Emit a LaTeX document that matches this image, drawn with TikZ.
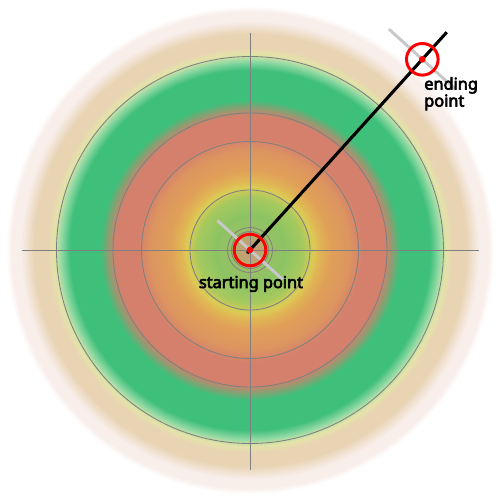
\documentclass[tikz,border=0pt]{standalone}
\usepackage{fontspec}
\setmainfont{Noto Sans}[BoldFont={Noto Sans}, BoldFeatures={FakeBold=3.6}]
\usetikzlibrary{calc}

\definecolor{ringcore}{HTML}{C4A074}
\definecolor{ringlimea}{HTML}{98C066}
\definecolor{ringlime}{HTML}{8CC463}
\definecolor{ringlimeb}{HTML}{A6C95E}
\definecolor{ringyel}{HTML}{DCCB55}
\definecolor{ringyo}{HTML}{E0B654}
\definecolor{ringora}{HTML}{E0A058}
\definecolor{ringorb}{HTML}{DC9460}
\definecolor{ringsal}{HTML}{D4806C}
\definecolor{ringgrn}{HTML}{3EBF7A}
\definecolor{ringlgrn}{HTML}{90D9A3}
\definecolor{ringpyel}{HTML}{E4E3A8}
\definecolor{ringtan}{HTML}{E8D3B3}
\definecolor{ringpale}{HTML}{F8EEEA}
\definecolor{guidegray}{HTML}{C8C8C8}

% radius in px / 10 = bp (shaded disc has radius 250)
\pgfdeclareradialshading{targetrings}{\pgfpoint{0bp}{0bp}}{%
  color(0bp)=(ringcore); color(0.9bp)=(ringcore);
  color(2bp)=(ringlimea); color(3.5bp)=(ringlime);
  color(5.3bp)=(ringlimeb); color(6.3bp)=(ringyel);
  color(6.9bp)=(ringyo); color(8bp)=(ringora);
  color(10bp)=(ringorb); color(11.2bp)=(ringsal);
  color(13.5bp)=(ringsal); color(15bp)=(ringgrn);
  color(18bp)=(ringgrn); color(18.9bp)=(ringlgrn);
  color(19.6bp)=(ringpyel); color(20.3bp)=(ringtan);
  color(21.6bp)=(ringtan); color(22.9bp)=(ringpale);
  color(23.8bp)=(ringpale); color(24.4bp)=(white);
  color(50bp)=(white)}

\tikzset{
  gridline/.style={draw=gray, line width=0.6pt},
  guide/.style={draw=guidegray, line width=2.1pt},
  track/.style={draw=black, line width=2.2pt},
  marker/.style={circle, draw=red, line width=2.1pt, minimum size=0.79cm, inner sep=0pt},
  pointlabel/.style={font=\fontsize{11.6}{12}\selectfont\bfseries, inner sep=0pt}
}

\begin{document}
\begin{tikzpicture}[x=0.025cm,y=-0.025cm]
\useasboundingbox (0,0) rectangle (500,500);
\shade[shading=targetrings] (250,250) circle (250);

% grid
\foreach \r in {18.5,22.5,60,108.5,137,193.5}
  \draw[gridline] (250,250) circle (\r);
\draw[gridline] (22,250) -- (479,250);
\draw[gridline] (250,33) -- (250,470);

\coordinate (start) at (250,250);
\coordinate (end) at (422.3,59.3);

\draw[guide] ($(start)!1.1cm!90:(end)$) -- ($(start)!1.1cm!-90:(end)$);
\draw[guide] ($(end)!1.125cm!90:(start)$) -- ($(end)!1.125cm!-90:(start)$);
\draw[track] ($(start)!-0.017!(end)$) -- ($(start)!1.142!(end)$);

\node[marker] (startmark) at (start) {};
\node[marker] (endmark) at (end) {};
\fill[red] (start) circle (3.3);
\fill[red] (end) circle (3.3);

\node[pointlabel, anchor=base] (startlbl) at (251,288) {starting point};
\node[pointlabel, align=left, anchor=base west] (endlbl) at (424,106.5) {ending\\point};
\end{tikzpicture}
\end{document}
